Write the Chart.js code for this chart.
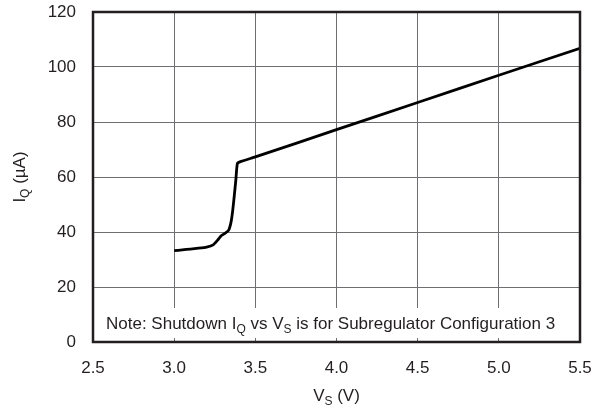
<!DOCTYPE html>
<html>
<head>
<meta charset="utf-8">
<script src="https://cdn.jsdelivr.net/npm/chart.js@4"></script>
<style>
  html, body { margin: 0; padding: 0; background: #fff; }
  #wrap { width: 601px; height: 412px; }
</style>
</head>
<body>
<div id="wrap"><canvas id="iqChart"></canvas></div>
<script>
// supply voltage (V) and quiescent current (uA)
const vsValues = [3.0, 3.05, 3.1, 3.15, 3.2, 3.24, 3.27, 3.29, 3.31, 3.335, 3.35, 3.36, 3.37, 3.38, 3.39, 3.42, 3.5, 4.0, 4.5, 5.0, 5.5];
const iqValues = [33.2, 33.5, 33.8, 34.1, 34.5, 35.3, 37.2, 38.6, 39.4, 40.6, 43.5, 47.5, 53, 59, 65, 65.8, 67.3, 77.2, 87.1, 97, 106.8];

const xTicks = [2.5, 3.0, 3.5, 4.0, 4.5, 5.0, 5.5];
const yTicks = [0, 20, 40, 60, 80, 100, 120];

const FONT = '"Liberation Sans", Arial, Helvetica, sans-serif';
const TXT = '#231f20';
const SIZE = 17;

// draws text pieces, some as subscripts, starting at x
function drawParts(ctx, parts, x, y, size) {
    parts.forEach(p => {
        if (p.sub) {
            ctx.font = Math.round(size * 0.7) + 'px ' + FONT;
            ctx.fillText(p.t, x, y + size * 0.25);
        } else {
            ctx.font = size + 'px ' + FONT;
            ctx.fillText(p.t, x, y);
        }
        x += ctx.measureText(p.t).width;
    });
    return x;
}
function partsWidth(ctx, parts, size) {
    let w = 0;
    parts.forEach(p => {
        ctx.font = (p.sub ? Math.round(size * 0.7) : size) + 'px ' + FONT;
        w += ctx.measureText(p.t).width;
    });
    return w;
}

const noteParts = [{t: 'Note: Shutdown I'}, {t: 'Q', sub: true}, {t: ' vs V'}, {t: 'S', sub: true}, {t: ' is for Subregulator Configuration 3'}];
const xTitle = [{t: 'V'}, {t: 'S', sub: true}, {t: ' (V)'}];
const yTitle = [{t: 'I'}, {t: 'Q', sub: true}, {t: ' (\u00b5A)'}];

const extras = {
    id: 'extras',
    beforeDatasetsDraw(chart) {
        const ctx = chart.ctx;
        const a = chart.chartArea;
        // note box blanks out the grid near the bottom
        ctx.save();
        ctx.fillStyle = '#fff';
        ctx.fillRect(a.left, a.bottom - 34, a.right - a.left, 30);
        ctx.fillStyle = TXT;
        ctx.textBaseline = 'alphabetic';
        drawParts(ctx, noteParts, a.left + 13, a.bottom - 13, SIZE);
        ctx.restore();
    },
    afterDraw(chart) {
        const ctx = chart.ctx;
        const a = chart.chartArea;
        ctx.save();
        // frame
        ctx.strokeStyle = '#231f20';
        ctx.lineWidth = 2.5;
        ctx.strokeRect(a.left, a.top, a.right - a.left, a.bottom - a.top);
        // axis titles
        ctx.fillStyle = TXT;
        ctx.textBaseline = 'alphabetic';
        const wx = partsWidth(ctx, xTitle, SIZE);
        drawParts(ctx, xTitle, (a.left + a.right) / 2 - wx / 2, 401, SIZE);
        ctx.translate(25, (a.top + a.bottom) / 2);
        ctx.rotate(-Math.PI / 2);
        const wy = partsWidth(ctx, yTitle, SIZE);
        drawParts(ctx, yTitle, -wy / 2, 0, SIZE);
        ctx.restore();
    }
};

const ctx = document.getElementById('iqChart').getContext('2d');
const iqChart = new Chart(ctx, {
    type: 'line',
    data: {
        labels: vsValues,
        datasets: [{
            data: vsValues.map((v, i) => ({x: v, y: iqValues[i]})),
            borderColor: '#000',
            borderWidth: 2.8,
            pointRadius: 0,
            tension: 0.15,
            fill: false
        }]
    },
    options: {
        responsive: true,
        maintainAspectRatio: false,
        animation: false,
        layout: { padding: 0 },
        plugins: { legend: { display: false }, tooltip: { enabled: false } },
        scales: {
            x: {
                type: 'linear',
                min: 2.5,
                max: 5.5,
                afterBuildTicks: s => { s.ticks = xTicks.map(v => ({value: v})); },
                afterFit: s => { s.height = 70; s.paddingLeft = 0; s.paddingRight = 21; },
                grid: { color: '#6d6e71', lineWidth: 1, drawTicks: false },
                border: { display: false },
                ticks: {
                    color: TXT,
                    font: { family: FONT, size: SIZE },
                    padding: 16,
                    maxRotation: 0,
                    callback: v => v.toFixed(1)
                }
            },
            y: {
                min: 0,
                max: 120,
                afterBuildTicks: s => { s.ticks = yTicks.map(v => ({value: v})); },
                afterFit: s => { s.width = 93; s.paddingTop = 12; s.paddingBottom = 0; },
                grid: { color: '#6d6e71', lineWidth: 1, drawTicks: false },
                border: { display: false },
                ticks: {
                    color: TXT,
                    font: { family: FONT, size: SIZE },
                    padding: 17
                }
            }
        }
    },
    plugins: [extras]
});
</script>
</body>
</html>
